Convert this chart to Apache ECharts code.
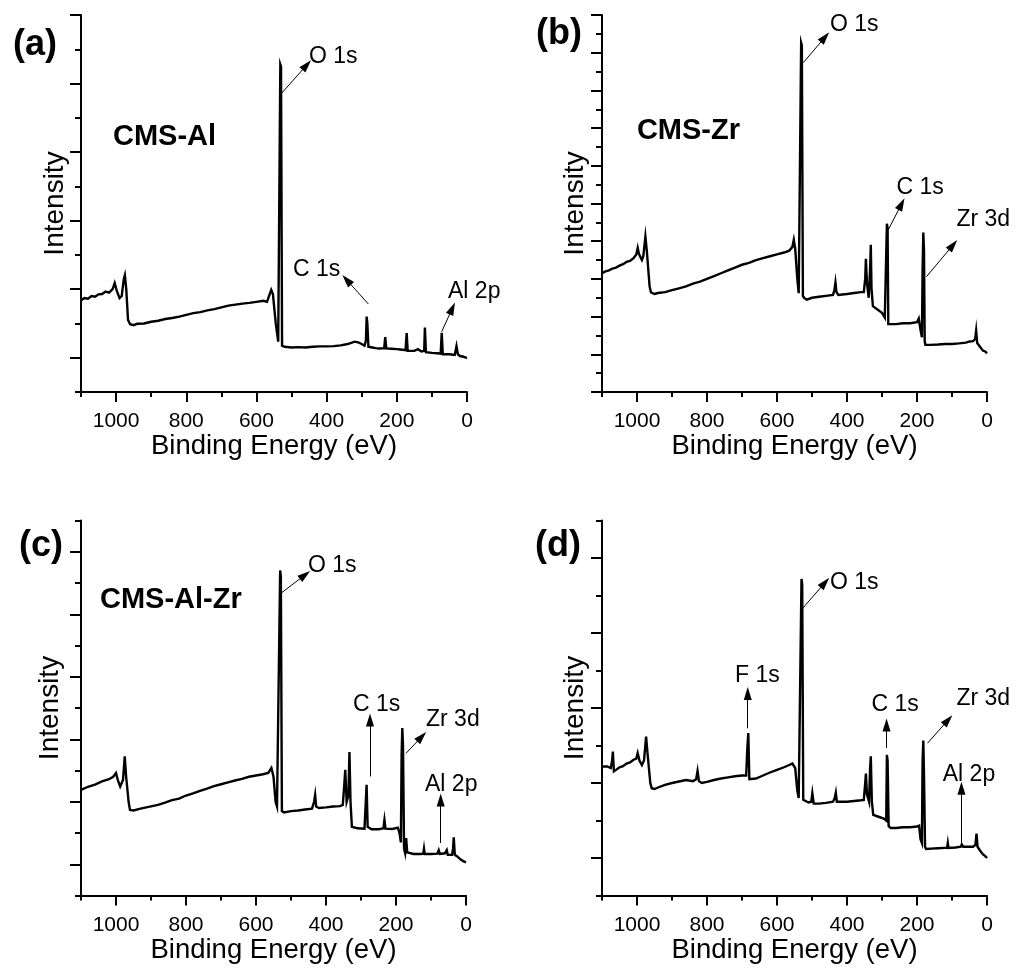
<!DOCTYPE html>
<html><head><meta charset="utf-8">
<script src="https://cdn.jsdelivr.net/npm/echarts@6/dist/echarts.min.js"></script>
<style>html,body{margin:0;padding:0;background:#fff}#c{width:1021px;height:969px}</style>
</head><body><div id="c"></div>
<script>
// ---------- data ----------
const xTickLabels = [0, 200, 400, 600, 800, 1000];
const xMinorTicks = [100, 300, 500, 700, 900, 1100];
const xAxisTitle = 'Binding Energy (eV)';
const yAxisTitle = 'Intensity';

const spectrumA = [[1100,2.68],[1090,2.74],[1080,2.72],[1070,2.8],[1060,2.78],[1050,2.85],[1040,2.86],[1030,2.93],[1020,2.9],[1010,3.0],[1004,3.18],[998,2.95],[990,2.74],[984,2.8],[978,3.3],[975,3.41],[971,3.0],[966,2.1],[960,1.98],[950,1.95],[940,1.99],[920,2.0],[900,2.05],[880,2.08],[860,2.13],[840,2.16],[820,2.2],[800,2.25],[780,2.3],[760,2.33],[740,2.38],[720,2.42],[700,2.47],[680,2.52],[660,2.55],[640,2.58],[620,2.6],[600,2.63],[580,2.66],[570,2.63],[565,2.6],[558,2.98],[553,2.85],[545,2.0],[538,1.47],[534,1.5],[532,9.56],[530,9.5],[527,1.35],[520,1.32],[500,1.3],[480,1.31],[460,1.3],[440,1.32],[420,1.33],[400,1.33],[380,1.34],[360,1.36],[340,1.4],[320,1.47],[310,1.45],[300,1.4],[292,1.35],[288,1.5],[286,2.2],[284,2.0],[281,1.32],[270,1.3],[260,1.28],[250,1.27],[236,1.28],[233,1.6],[230,1.27],[215,1.26],[200,1.25],[190,1.24],[175,1.22],[172,1.72],[169,1.2],[150,1.2],[140,1.25],[130,1.18],[122,1.2],[120,1.88],[117,1.16],[100,1.14],[85,1.13],[75,1.12],[72,1.73],[69,1.1],[50,1.1],[35,1.08],[30,1.34],[26,1.1],[20,1.05],[10,1.03],[5,0.98],[0,0.99]];

const spectrumB = [[1100,6.31],[1090,6.4],[1080,6.45],[1070,6.55],[1060,6.6],[1050,6.7],[1040,6.78],[1030,6.9],[1020,6.95],[1010,7.1],[1002,7.3],[998,7.65],[994,7.3],[986,7.0],[982,7.2],[976,8.25],[972,7.5],[964,5.6],[960,5.28],[950,5.2],[940,5.25],[920,5.3],[900,5.4],[880,5.5],[860,5.6],[840,5.75],[820,5.85],[800,6.0],[780,6.15],[760,6.3],[740,6.45],[720,6.6],[700,6.75],[680,6.85],[660,7.0],[640,7.1],[620,7.2],[600,7.3],[580,7.4],[565,7.5],[556,7.7],[552,8.07],[548,7.6],[542,6.0],[538,5.24],[534,5.3],[531,18.53],[529,18.4],[526,5.1],[522,4.98],[515,4.9],[500,5.0],[480,5.05],[460,5.1],[440,5.15],[436,5.4],[433,5.81],[430,5.3],[425,5.15],[400,5.2],[380,5.25],[360,5.3],[352,5.3],[348,6.0],[346,7.07],[343,5.8],[338,5.0],[334,6.5],[332,7.81],[330,5.5],[326,4.55],[315,4.4],[300,4.2],[292,3.95],[288,3.85],[286,8.93],[284,8.7],[282,3.6],[278,3.56],[260,3.6],[240,3.65],[220,3.65],[200,3.7],[195,3.9],[190,3.3],[186,2.9],[184,6.5],[182,8.46],[180,7.5],[178,2.7],[176,2.5],[160,2.5],[140,2.52],[120,2.55],[100,2.55],[80,2.58],[60,2.62],[50,2.68],[40,2.7],[34,2.8],[31,3.26],[28,2.6],[20,2.4],[12,2.2],[5,2.15],[0,2.05]];

const spectrumC = [[1100,3.38],[1080,3.48],[1060,3.55],[1040,3.65],[1020,3.72],[1008,3.8],[1000,3.92],[995,3.7],[988,3.49],[980,3.7],[975,4.45],[971,3.8],[964,3.0],[960,2.74],[950,2.72],[930,2.78],[900,2.85],[880,2.9],[860,2.97],[840,3.05],[820,3.1],[800,3.2],[780,3.27],[760,3.35],[740,3.42],[720,3.5],[700,3.56],[680,3.62],[660,3.68],[640,3.73],[620,3.8],[600,3.84],[580,3.88],[565,3.92],[556,4.08],[550,3.8],[544,3.0],[540,2.85],[535,2.9],[531,10.4],[529,10.2],[526,2.7],[520,2.66],[500,2.7],[480,2.72],[460,2.75],[440,2.78],[434,3.0],[431,3.22],[428,2.85],[420,2.8],[400,2.82],[380,2.85],[360,2.86],[352,2.9],[348,3.5],[345,4.02],[341,3.0],[336,3.2],[333,4.59],[330,3.0],[326,2.2],[310,2.15],[290,2.14],[286,2.2],[284,3.54],[281,2.2],[270,2.12],[250,2.12],[236,2.15],[233,2.42],[230,2.14],[210,2.13],[195,2.17],[190,2.0],[186,1.7],[184,4.5],[182,5.36],[180,4.8],[177,1.5],[174,1.36],[171,1.84],[168,1.38],[150,1.33],[130,1.33],[122,1.34],[120,1.5],[118,1.33],[100,1.33],[82,1.34],[78,1.45],[75,1.33],[60,1.35],[55,1.45],[52,1.3],[40,1.3],[37,1.5],[35,1.86],[32,1.3],[25,1.25],[15,1.15],[8,1.1],[0,1.06]];

const spectrumD = [[1100,3.44],[1085,3.44],[1075,3.4],[1071,3.6],[1069,3.84],[1066,3.31],[1060,3.35],[1050,3.42],[1040,3.45],[1030,3.52],[1020,3.55],[1010,3.62],[1002,3.65],[998,3.8],[993,3.6],[986,3.48],[980,3.6],[974,4.24],[970,3.8],[962,3.0],[958,2.86],[950,2.84],[940,2.88],[920,2.95],[900,3.0],[880,3.04],[860,3.08],[840,3.05],[831,3.1],[827,3.32],[823,3.05],[815,3.0],[800,3.03],[780,3.08],[760,3.12],[740,3.15],[720,3.18],[700,3.2],[688,3.2],[685,3.9],[682,4.33],[679,3.1],[675,3.06],[660,3.12],[640,3.2],[620,3.28],[600,3.35],[580,3.42],[565,3.48],[556,3.52],[552,3.57],[548,3.4],[542,2.8],[538,2.6],[533,2.62],[530,8.44],[528,8.3],[525,2.55],[520,2.51],[510,2.48],[502,2.5],[499,2.73],[495,2.45],[480,2.45],[460,2.47],[440,2.5],[435,2.6],[432,2.74],[429,2.5],[420,2.5],[400,2.5],[380,2.52],[360,2.54],[352,2.55],[348,3.0],[346,3.25],[343,2.7],[337,2.5],[334,3.4],[332,3.71],[329,2.5],[325,2.15],[310,2.1],[295,2.05],[288,2.0],[286,3.75],[284,3.6],[281,1.85],[275,1.8],[260,1.8],[240,1.82],[220,1.82],[200,1.84],[194,1.86],[190,1.5],[186,1.4],[184,3.6],[182,4.13],[180,3.2],[177,1.3],[174,1.24],[160,1.25],[140,1.26],[120,1.27],[114,1.27],[112,1.4],[110,1.27],[90,1.28],[75,1.3],[72,1.36],[68,1.3],[50,1.3],[40,1.3],[33,1.35],[30,1.65],[27,1.3],[20,1.2],[12,1.1],[5,1.05],[0,1.0]];

// y scale (arbitrary units) and long-tick values
const yMaxA = 11, yMajorA = [1, 3, 5, 7, 9, 11];
const yMaxB = 20, yMajorB = [0, 2, 4, 6, 8, 10, 12, 14, 16, 18, 20];
const yMaxC = 12, yMajorC = [1, 3, 5, 7, 9, 11];
const yMaxD = 10, yMajorD = [1, 3, 5, 7, 9];

// peak labels: [text, eV (left edge), intensity (middle)]
const labelsA = [['O 1s', 450.3, 9.79], ['C 1s', 495.9, 3.57], ['Al 2p', 54.1, 2.93]];
const labelsB = [['O 1s', 448.8, 19.47], ['C 1s', 258.5, 10.82], ['Zr 3d', 87.3, 9.12]];
const labelsC = [['O 1s', 451.4, 10.54], ['C 1s', 322.9, 6.1], ['Zr 3d', 114.3, 5.62], ['Al 2p', 117.1, 3.54]];
const labelsD = [['O 1s', 448.8, 8.34], ['F 1s', 719.8, 5.86], ['C 1s', 329.8, 5.08], ['Zr 3d', 87.3, 5.24], ['Al 2p', 126.4, 3.22]];
// sample names: [text, eV (left edge), intensity (middle)]
const sampleA = ['CMS-Al', 1008.8, 7.44];
const sampleB = ['CMS-Zr', 1000.3, 13.85];
const sampleC = ['CMS-Al-Zr', 1045.7, 9.46];
const sampleD = null;
// arrows: [fromEV, fromY, toEV, toY]
const arrowsA = [[528, 8.72, 456.8, 9.54], [281.3, 2.57, 342.8, 3.27], [72.1, 1.76, 41.9, 2.44]];
const arrowsB = [[525, 17.47, 463, 18.82], [282.5, 8.59, 244.2, 9.97], [172.9, 6.12, 97, 7.8]];
const arrowsC = [[526.6, 9.69, 460, 10.26], [274.3, 3.81, 274.3, 5.62], [171.4, 4.55, 126.6, 5.08], [72.3, 1.68, 72.3, 3.06]];
const arrowsD = [[526.7, 7.66, 463, 8.34], [683.6, 4.46, 683.6, 5.39], [287, 3.93, 287, 4.55], [170, 4.06, 111.3, 4.68], [73, 1.4, 73, 2.86]];
const panelTags = ['(a)', '(b)', '(c)', '(d)'];

// ---------- layout ----------
const FONT = "'Liberation Sans', Arial, Helvetica, sans-serif";
const panels = [
  {rect: [81, 15, 386, 377], data: spectrumA, yMax: yMaxA, yMajor: yMajorA, labels: labelsA, sample: sampleA, arrows: arrowsA, tagPos: [35, 45], nameGap: 12},
  {rect: [602, 15, 385, 377], data: spectrumB, yMax: yMaxB, yMajor: yMajorB, labels: labelsB, sample: sampleB, arrows: arrowsB, tagPos: [559, 34], nameGap: 13},
  {rect: [81, 520.5, 385, 375], data: spectrumC, yMax: yMaxC, yMajor: yMajorC, labels: labelsC, sample: sampleC, arrows: arrowsC, tagPos: [41, 546], nameGap: 17},
  {rect: [602, 520.5, 385, 375], data: spectrumD, yMax: yMaxD, yMajor: yMajorD, labels: labelsD, sample: sampleD, arrows: arrowsD, tagPos: [558, 546], nameGap: 13}
];

const chart = echarts.init(document.getElementById('c'), null, {renderer: 'canvas'});
const blk = {color: '#000', width: 2};
const option = {animation: false, backgroundColor: '#fff', grid: [], xAxis: [], yAxis: [], series: []};

panels.forEach((p, i) => {
  option.grid.push({left: p.rect[0], top: p.rect[1], width: p.rect[2], height: p.rect[3]});
  const xb = {type: 'value', gridIndex: i, min: 0, max: 1100, inverse: true, position: 'bottom', splitLine: {show: false}};
  option.xAxis.push(Object.assign({}, xb, {
    axisLine: {show: true, onZero: false, lineStyle: blk},
    axisTick: {show: true, customValues: xTickLabels, length: 10, lineStyle: blk},
    axisLabel: {show: true, customValues: xTickLabels, margin: 19, fontSize: 21, color: '#000', fontFamily: FONT,
      formatter: v => String(v)},
    name: xAxisTitle, nameLocation: 'middle', nameGap: 37,
    nameTextStyle: {fontSize: 27.5, color: '#000', fontFamily: FONT}
  }));
  option.xAxis.push(Object.assign({}, xb, {
    axisLine: {show: false, onZero: false},
    axisTick: {show: true, customValues: xMinorTicks, length: 5, lineStyle: blk},
    axisLabel: {show: false}
  }));
  const yb = {type: 'value', gridIndex: i, min: 0, max: p.yMax, position: 'left', splitLine: {show: false}};
  option.yAxis.push(Object.assign({}, yb, {
    interval: 1,
    axisLine: {show: true, onZero: false, lineStyle: blk},
    axisTick: {show: true, length: 6, lineStyle: blk},
    axisLabel: {show: false},
    name: yAxisTitle, nameLocation: 'middle', nameGap: p.nameGap,
    nameTextStyle: {fontSize: 28, color: '#000', fontFamily: FONT}
  }));
  option.yAxis.push(Object.assign({}, yb, {
    axisLine: {show: false, onZero: false},
    axisTick: {show: true, customValues: p.yMajor, length: 11, lineStyle: blk},
    axisLabel: {show: false}
  }));
  option.series.push({
    type: 'line', xAxisIndex: 2 * i, yAxisIndex: 2 * i, data: p.data,
    showSymbol: false, symbol: 'none', silent: true,
    lineStyle: {color: '#000', width: 2.4, join: 'miter'},
    markLine: {
      silent: true, animation: false,
      symbol: ['none', 'triangle'],
      label: {show: false},
      emphasis: {disabled: true},
      lineStyle: {color: '#000', width: 1, type: 'solid'},
      data: p.arrows.map(a => [
        {coord: [a[0], a[1]], symbol: 'none', symbolSize: 0},
        {coord: [a[2], a[3]], symbol: 'triangle', symbolSize: [8, 13]}
      ])
    }
  });
});
chart.setOption(option);

// texts placed through the axes' own scales
const graphics = [];
panels.forEach((p, i) => {
  const finder = {xAxisIndex: 2 * i, yAxisIndex: 2 * i};
  p.labels.forEach(l => {
    const pt = chart.convertToPixel(finder, [l[1], l[2]]);
    graphics.push({type: 'text', x: pt[0], y: pt[1], silent: true,
      style: {text: l[0], font: '23px ' + FONT, fill: '#000', align: 'left', textAlign: 'left', verticalAlign: 'middle', textVerticalAlign: 'middle'}});
  });
  if (p.sample) {
    const pt = chart.convertToPixel(finder, [p.sample[1], p.sample[2]]);
    graphics.push({type: 'text', x: pt[0], y: pt[1], silent: true,
      style: {text: p.sample[0], font: 'bold 29px ' + FONT, fill: '#000', align: 'left', textAlign: 'left', verticalAlign: 'middle', textVerticalAlign: 'middle'}});
  }
  graphics.push({type: 'text', x: p.tagPos[0], y: p.tagPos[1], silent: true,
    style: {text: panelTags[i], font: 'bold 36px ' + FONT, fill: '#000', align: 'center', textAlign: 'center', verticalAlign: 'middle', textVerticalAlign: 'middle'}});
});
chart.setOption({graphic: graphics});
</script></body></html>
